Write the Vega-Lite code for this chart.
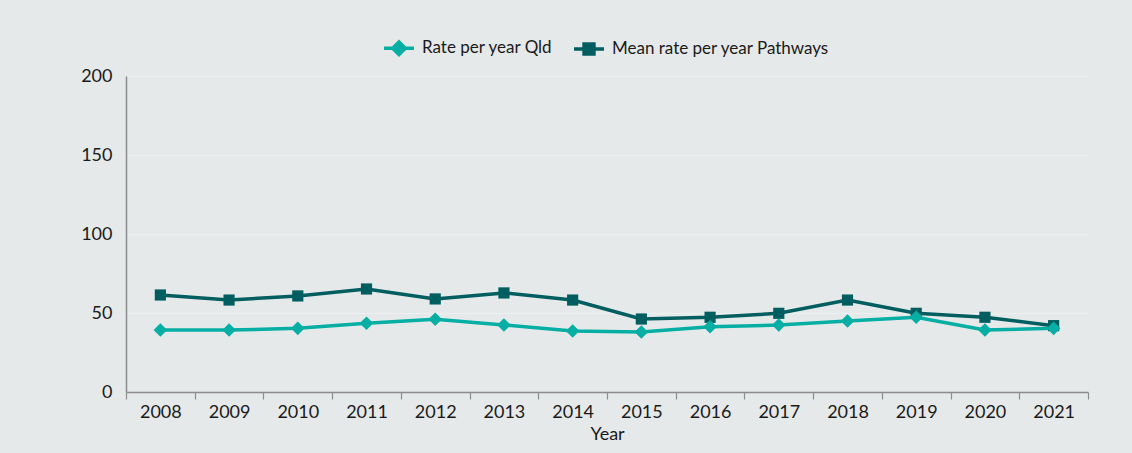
{
  "$schema": "https://vega.github.io/schema/vega-lite/v6.json",
  "width": 962,
  "height": 316,
  "autosize": {"type": "none"},
  "padding": {"left": 126, "top": 76, "right": 44, "bottom": 61},
  "background": "#e6e9e9",
  "config": {
    "font": "Lato",
    "view": {"stroke": null},
    "axis": {"labelColor": "#1a1a1a", "titleColor": "#1a1a1a", "domainColor": "#8c8c8c", "tickColor": "#8c8c8c", "domainWidth": 1.5, "tickWidth": 1.2}
  },
  "data": {
    "values": [
      {"Year": "2008", "series": "Rate per year Qld", "rate": 39.2},
      {"Year": "2009", "series": "Rate per year Qld", "rate": 39.2},
      {"Year": "2010", "series": "Rate per year Qld", "rate": 40.3},
      {"Year": "2011", "series": "Rate per year Qld", "rate": 43.5},
      {"Year": "2012", "series": "Rate per year Qld", "rate": 46.0},
      {"Year": "2013", "series": "Rate per year Qld", "rate": 42.4},
      {"Year": "2014", "series": "Rate per year Qld", "rate": 38.6},
      {"Year": "2015", "series": "Rate per year Qld", "rate": 38.0},
      {"Year": "2016", "series": "Rate per year Qld", "rate": 41.3},
      {"Year": "2017", "series": "Rate per year Qld", "rate": 42.4},
      {"Year": "2018", "series": "Rate per year Qld", "rate": 44.9},
      {"Year": "2019", "series": "Rate per year Qld", "rate": 47.3},
      {"Year": "2020", "series": "Rate per year Qld", "rate": 39.2},
      {"Year": "2021", "series": "Rate per year Qld", "rate": 40.3},
      {"Year": "2008", "series": "Mean rate per year Pathways", "rate": 61.4},
      {"Year": "2009", "series": "Mean rate per year Pathways", "rate": 58.2},
      {"Year": "2010", "series": "Mean rate per year Pathways", "rate": 60.8},
      {"Year": "2011", "series": "Mean rate per year Pathways", "rate": 65.2},
      {"Year": "2012", "series": "Mean rate per year Pathways", "rate": 58.9},
      {"Year": "2013", "series": "Mean rate per year Pathways", "rate": 62.7},
      {"Year": "2014", "series": "Mean rate per year Pathways", "rate": 58.2},
      {"Year": "2015", "series": "Mean rate per year Pathways", "rate": 46.2},
      {"Year": "2016", "series": "Mean rate per year Pathways", "rate": 47.3},
      {"Year": "2017", "series": "Mean rate per year Pathways", "rate": 49.8},
      {"Year": "2018", "series": "Mean rate per year Pathways", "rate": 58.2},
      {"Year": "2019", "series": "Mean rate per year Pathways", "rate": 49.8},
      {"Year": "2020", "series": "Mean rate per year Pathways", "rate": 47.3},
      {"Year": "2021", "series": "Mean rate per year Pathways", "rate": 42.0}
    ]
  },
  "encoding": {
    "x": {
      "field": "Year",
      "type": "ordinal",
      "bandPosition": 0.5,
      "scale": {"type": "band", "paddingInner": 0, "paddingOuter": 0},
      "axis": {"labelAngle": 0, "labelFontSize": 18, "labelPadding": 4, "tickBand": "extent", "tickSize": 7, "title": "Year", "titleFontSize": 18, "titleFontWeight": "normal", "titlePadding": 4, "grid": false}
    },
    "y": {
      "field": "rate",
      "type": "quantitative",
      "scale": {"domain": [0, 200], "nice": false},
      "axis": {"values": [0, 50, 100, 150, 200], "title": null, "ticks": false, "labelFontSize": 18, "labelPadding": 14, "grid": true, "gridColor": "#edf0f0", "gridWidth": 1.2}
    },
    "color": {
      "field": "series",
      "type": "nominal",
      "scale": {"domain": ["Rate per year Qld", "Mean rate per year Pathways"], "range": ["#06aea4", "#005e60"]},
      "legend": {
        "title": null,
        "orient": "none",
        "direction": "horizontal",
        "legendX": 256,
        "legendY": -45,
        "labelFontSize": 17,
        "labelLimit": 400,
        "labelColor": "#1a1a1a",
        "symbolSize": 900,
        "symbolStrokeWidth": 3.5,
        "columnPadding": 14,
        "labelOffset": 6,
        "encode": {
          "symbols": {
            "update": {
              "shape": {"signal": "datum.value === 'Rate per year Qld' ? 'M-1,0H1M0,-0.42L0.42,0L0,0.42L-0.42,0Z' : 'M-1,0H1M-0.33,-0.33H0.33V0.33H-0.33Z'"},
              "fill": {"scale": "color", "field": "value"},
              "stroke": {"scale": "color", "field": "value"}
            }
          }
        }
      }
    }
  },
  "layer": [
    {"mark": {"type": "line", "strokeWidth": 3.5}},
    {
      "transform": [{"filter": "datum.series === 'Mean rate per year Pathways'"}],
      "mark": {"type": "point", "shape": "square", "filled": true, "opacity": 1, "size": 125}
    },
    {
      "transform": [{"filter": "datum.series === 'Rate per year Qld'"}],
      "mark": {"type": "point", "shape": "diamond", "filled": true, "opacity": 1, "size": 185}
    }
  ]
}
